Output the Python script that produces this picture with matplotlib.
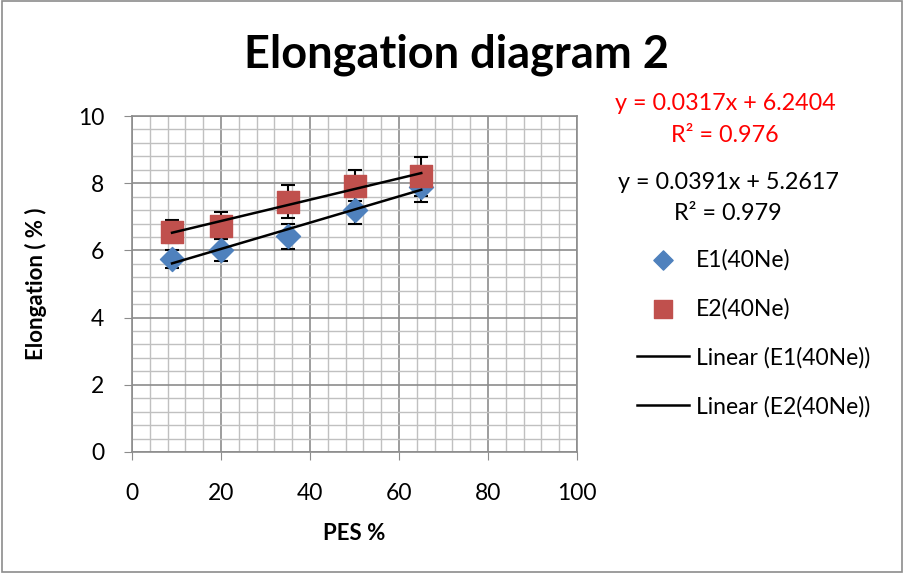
import numpy as np
from matplotlib import pyplot as plt
from matplotlib.ticker import MultipleLocator

pes = [9, 20, 35, 50, 65]
e1 = [5.75, 6.0, 6.42, 7.2, 7.88]
e1_err = [0.27, 0.33, 0.37, 0.4, 0.45]
e2 = [6.56, 6.74, 7.45, 7.93, 8.2]
e2_err = [0.35, 0.4, 0.5, 0.45, 0.57]

fit1 = (0.0391, 5.2617)
fit2 = (0.0317, 6.2404)

plt.rcParams['font.family'] = ['Lato', 'DejaVu Sans']

fig = plt.figure(figsize=(9.04, 5.73), dpi=100)
ax = fig.add_axes([132 / 904, 1 - 452 / 573, 445 / 904, 336 / 573])

ax.errorbar(pes, e1, yerr=e1_err, fmt='none', ecolor='black', elinewidth=1.5,
            capsize=5, capthick=1.5, zorder=3)
ax.errorbar(pes, e2, yerr=e2_err, fmt='none', ecolor='black', elinewidth=1.5,
            capsize=5, capthick=1.5, zorder=3)
ax.scatter(pes, e1, marker='D', s=150, color='#4f81bd', zorder=4,
           label='E1(40Ne)')
ax.scatter(pes, e2, marker='s', s=260, color='#c0504d', zorder=5,
           label='E2(40Ne)')

xs = np.array([pes[0], pes[-1]])
ax.plot(xs, fit1[0] * xs + fit1[1], color='black', lw=1.8, zorder=6,
        label='Linear (E1(40Ne))')
ax.plot(xs, fit2[0] * xs + fit2[1], color='black', lw=1.8, zorder=6,
        label='Linear (E2(40Ne))')

ax.set_xlim(0, 100)
ax.set_ylim(0, 10)
ax.xaxis.set_major_locator(MultipleLocator(20))
ax.xaxis.set_minor_locator(MultipleLocator(4))
ax.yaxis.set_major_locator(MultipleLocator(2))
ax.yaxis.set_minor_locator(MultipleLocator(0.4))
ax.grid(which='major', color='#8c8c8c', lw=1.2)
ax.grid(which='minor', color='#c0c0c0', lw=1.0)
ax.set_axisbelow(True)
for s in ax.spines.values():
    s.set_color('#8c8c8c')
    s.set_linewidth(1.2)
ax.tick_params(which='major', length=6, color='#8c8c8c', labelsize=16.5)
ax.tick_params(axis='y', pad=14)
ax.tick_params(axis='x', pad=16)
ax.tick_params(which='minor', length=0)

ax.set_xlabel('PES %', fontsize=16, fontweight='bold', labelpad=14)
ax.set_ylabel('Elongation ( % )', fontsize=16, fontweight='bold', labelpad=22)

fig.text(457 / 904, 1 - 55 / 573, 'Elongation diagram 2', fontsize=32.5,
         fontweight='bold', ha='center', va='center')

fig.text(725 / 904, 1 - 103 / 573, 'y = 0.0317x + 6.2404', color='red',
         fontsize=16.8, ha='center', va='center')
fig.text(725 / 904, 1 - 135 / 573, 'R² = 0.976', color='red',
         fontsize=16.8, ha='center', va='center')
fig.text(728 / 904, 1 - 182 / 573, 'y = 0.0391x + 5.2617', color='black',
         fontsize=16.8, ha='center', va='center')
fig.text(728 / 904, 1 - 213 / 573, 'R² = 0.979', color='black',
         fontsize=16.8, ha='center', va='center')

leg = fig.legend(loc='upper left', bbox_to_anchor=(616 / 904, 1 - 228 / 573),
                 frameon=False, fontsize=16.5, labelspacing=1.2,
                 handlelength=2.3, handletextpad=0.3, markerscale=0.8)

fig.patches.append(plt.Rectangle((0.002, 0.002), 0.996, 0.996,
                                 transform=fig.transFigure, fill=False,
                                 edgecolor='#8c8c8c', lw=1.2))

fig.savefig('out.png', dpi=100)
